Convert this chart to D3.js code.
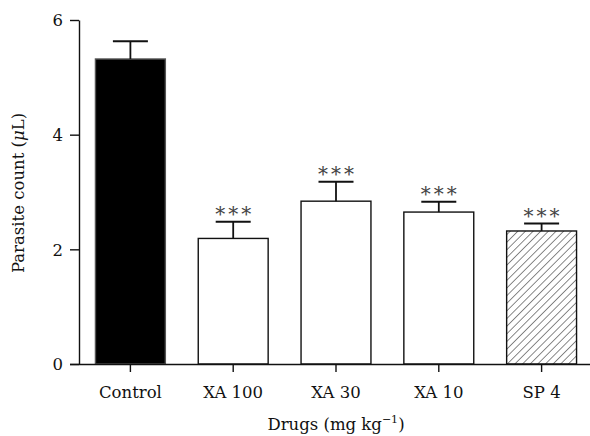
<!DOCTYPE html>
<html>
<head>
<meta charset="utf-8">
<script src="https://cdn.jsdelivr.net/npm/d3@7"></script>
<style>
  body { margin: 0; background: #fff; }
  text { font-family: "DejaVu Serif", "Liberation Serif", serif; fill: #111; }
</style>
</head>
<body>
<svg width="590" height="436"></svg>
<script>
// values
const categories = ["Control", "XA 100", "XA 30", "XA 10", "SP 4"];
const means = [5.32, 2.19, 2.84, 2.65, 2.32];
const sems = [0.31, 0.29, 0.34, 0.18, 0.13];
const marks = ["", "***", "***", "***", "***"];
const fills = ["solid", "open", "open", "open", "hatch"];
const yTicks = [0, 2, 4, 6];

const svg = d3.select("svg");
const plotLeft = 79, plotTop = 20, plotBottom = 364, plotRight = 590;

const x = d3.scaleBand().domain(categories).range([plotLeft, 593]).paddingInner(0.32).paddingOuter(0.16);
const y = d3.scaleLinear().domain([0, 6]).range([plotBottom, plotTop]);

// hatch pattern for SP 4
svg.append("defs").append("pattern")
    .attr("id", "hatch")
    .attr("patternUnits", "userSpaceOnUse")
    .attr("width", 5.4).attr("height", 5.4)
    .attr("patternTransform", "rotate(45)")
    .append("line")
    .attr("x1", 0).attr("y1", 0).attr("x2", 0).attr("y2", 5.4)
    .attr("stroke", "#3a3a3a").attr("stroke-width", 1.2);

const rows = categories.map((c, i) => ({ name: c, mean: means[i], sem: sems[i], mark: marks[i], fill: fills[i] }));

// bars
svg.selectAll("rect.bar").data(rows).join("rect").attr("class", "bar")
    .attr("x", d => x(d.name))
    .attr("width", x.bandwidth())
    .attr("y", d => y(d.mean))
    .attr("height", d => y(0) - y(d.mean))
    .attr("fill", d => d.fill === "solid" ? "#000" : d.fill === "hatch" ? "url(#hatch)" : "#fff")
    .attr("stroke", d => d.fill === "solid" ? "#555" : "#111")
    .attr("stroke-width", 1.4);

// error bars (upper only)
const cx = d => x(d.name) + x.bandwidth() / 2;
const capW = 35;
svg.selectAll("line.err").data(rows).join("line").attr("class", "err")
    .attr("x1", cx).attr("x2", cx)
    .attr("y1", d => y(d.mean)).attr("y2", d => y(d.mean + d.sem))
    .attr("stroke", "#111").attr("stroke-width", 1.8);
svg.selectAll("line.cap").data(rows).join("line").attr("class", "cap")
    .attr("x1", d => cx(d) - capW / 2).attr("x2", d => cx(d) + capW / 2)
    .attr("y1", d => y(d.mean + d.sem)).attr("y2", d => y(d.mean + d.sem))
    .attr("stroke", "#111").attr("stroke-width", 2);

// significance stars
svg.selectAll("text.sig").data(rows.filter(d => d.mark)).join("text").attr("class", "sig")
    .attr("x", d => cx(d) + 1.5)
    .attr("y", d => y(d.mean + d.sem) - 1)
    .attr("text-anchor", "middle")
    .style("font-size", "20px")
    .style("letter-spacing", "3px")
    .style("fill", "#444")
    .text(d => d.mark);

// y axis
const yAxis = svg.append("g").attr("transform", `translate(${plotLeft},0)`)
    .call(d3.axisLeft(y).tickValues(yTicks).tickSize(9).tickPadding(7).tickSizeOuter(0).tickFormat(d3.format("d")));
yAxis.selectAll("text").style("font-size", "16.5px").attr("dy", "0.36em");

// x axis
const xAxis = svg.append("g").attr("transform", `translate(0,${plotBottom})`)
    .call(d3.axisBottom(x).tickSize(8).tickPadding(14).tickSizeOuter(0));
xAxis.select(".domain").attr("d", `M${plotLeft - 9},0.5H${plotRight}`);
xAxis.selectAll("text").style("font-size", "16.5px");

svg.selectAll(".domain, .tick line").attr("stroke", "#111").attr("stroke-width", 1.4);

// axis titles
svg.append("text")
    .attr("transform", `translate(24,193) rotate(-90)`)
    .attr("text-anchor", "middle")
    .style("font-size", "16.5px")
    .html('Parasite count (<tspan font-style="italic">μ</tspan>L)');

svg.append("text")
    .attr("x", x("XA 30") + x.bandwidth() / 2)
    .attr("y", 430)
    .attr("text-anchor", "middle")
    .style("font-size", "16.5px")
    .html('Drugs (mg kg<tspan dy="-7" font-size="11px">−1</tspan><tspan dy="7">)</tspan>');
</script>
</body>
</html>
